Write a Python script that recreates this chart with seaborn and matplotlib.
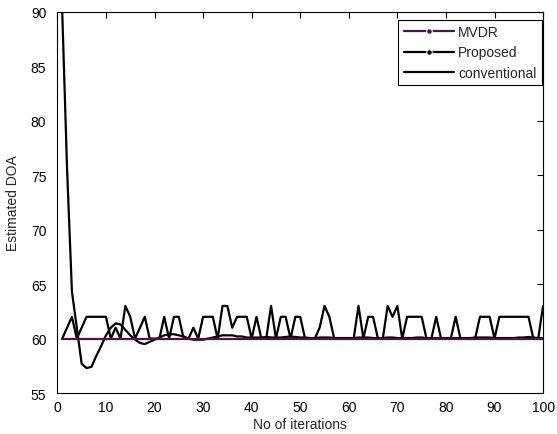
import matplotlib
matplotlib.use("Agg")
import matplotlib.pyplot as plt
import seaborn as sns
import pandas as pd

# iterations 1..100
iterations = list(range(1, 101))

# MVDR estimate stays at the true DOA
mvdr = [60] * 100

# proposed estimate
proposed = [
    60, 61, 62, 60, 61, 62, 62, 62, 62, 62,
    60, 61, 60, 63, 62, 60, 61, 62, 60, 60,
    60, 62, 60, 62, 62, 60, 60, 61, 60, 62,
    62, 62, 60, 63, 63, 61, 62, 62, 62, 60,
    62, 60, 60, 63, 60, 62, 62, 60, 62, 62,
    60, 60, 60, 61, 63, 62, 60, 60, 60, 60,
    60, 63, 60, 62, 62, 60, 60, 63, 62, 63,
    60, 62, 62, 62, 62, 60, 60, 62, 60, 60,
    60, 62, 60, 60, 60, 60, 62, 62, 62, 60,
    62, 62, 62, 62, 62, 62, 62, 60, 60, 63,
]

# conventional estimate
conventional = [
    90.0, 75.5, 64.3, 61.0, 57.7, 57.3, 57.4, 58.4, 59.3, 60.3,
    61.0, 61.4, 61.3, 60.8, 60.3, 59.9, 59.6, 59.5, 59.7, 59.9,
    60.1, 60.3, 60.4, 60.4, 60.3, 60.2, 60.0, 59.9, 59.9, 59.9,
    60.0, 60.1, 60.2, 60.3, 60.3, 60.3, 60.2, 60.2, 60.1, 60.1,
    60.1, 60.1, 60.15, 60.1, 60.1, 60.1, 60.15, 60.2, 60.15, 60.1,
    60.1, 60.05, 60.05, 60.1, 60.1, 60.1, 60.05, 60.05, 60.05, 60.05,
    60.05, 60.1, 60.1, 60.1, 60.05, 60.05, 60.05, 60.1, 60.1, 60.05,
    60.05, 60.05, 60.05, 60.1, 60.1, 60.05, 60.05, 60.05, 60.05, 60.05,
    60.05, 60.05, 60.05, 60.05, 60.05, 60.1, 60.1, 60.1, 60.1, 60.05,
    60.05, 60.05, 60.05, 60.05, 60.1, 60.1, 60.15, 60.1, 60.05, 60.05,
]

df = pd.DataFrame({
    "iter": iterations,
    "MVDR": mvdr,
    "Proposed": proposed,
    "conventional": conventional,
})

sns.set_style("white")
plt.rcParams["font.family"] = ["Liberation Sans", "DejaVu Sans"]

fig = plt.figure(figsize=(5.57, 4.35), dpi=100)
ax = fig.add_axes([0.103, 0.094, 0.872, 0.877])

# MVDR on top so the purple line stays visible at 60
sns.lineplot(data=df, x="iter", y="MVDR", color="#501050", lw=1.6, label="MVDR", ax=ax, zorder=4)
sns.lineplot(data=df, x="iter", y="Proposed", color="black", lw=1.6, label="Proposed", ax=ax, zorder=3)
sns.lineplot(data=df, x="iter", y="conventional", color="black", lw=1.6, label="conventional", ax=ax, zorder=3)

ax.set_xlim(0, 100)
ax.set_ylim(55, 90)
ax.set_xticks(range(0, 101, 10))
ax.set_yticks(range(55, 91, 5))
ax.tick_params(direction="in", length=4, width=0.8, top=True, right=True,
               labelsize=10, colors="black")
ax.tick_params(axis="x", pad=5)
ax.tick_params(axis="y", pad=8)
for s in ax.spines.values():
    s.set_visible(True)
    s.set_color("black")
    s.set_linewidth(0.8)

ax.set_xlabel("No of iterations", fontsize=10, labelpad=2)
ax.set_ylabel("Estimated DOA", fontsize=10, labelpad=8)

leg = ax.legend(loc="upper right", bbox_to_anchor=(0.998, 0.979), borderaxespad=0,
                fontsize=10, handlelength=3.6, handletextpad=0.3, labelspacing=0.45,
                fancybox=False, framealpha=1, edgecolor="black", borderpad=0.4)
leg.get_frame().set_linewidth(0.8)
for h in leg.legend_handles[:2]:
    h.set_marker(".")
    h.set_markersize(8)

fig.savefig("out.png", dpi=100)
